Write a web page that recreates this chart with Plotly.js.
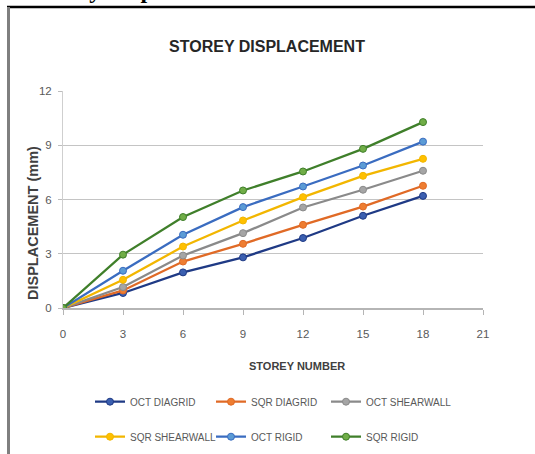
<!DOCTYPE html>
<html>
<head>
<meta charset="utf-8">
<script src="https://cdn.plot.ly/plotly-3.0.1.min.js"></script>
<style>
  html, body { margin: 0; padding: 0; background: #ffffff; }
  #chart { width: 535px; height: 454px; }
</style>
</head>
<body>
<div id="chart"></div>
<script>
// ---- data ----
var storeys = [0, 3, 6, 9, 12, 15, 18];
var seriesNames = ["OCT DIAGRID", "SQR DIAGRID", "OCT SHEARWALL", "SQR SHEARWALL", "OCT RIGID", "SQR RIGID"];
var octDiagrid   = [0, 0.83, 1.97, 2.80, 3.87, 5.10, 6.20];
var sqrDiagrid   = [0, 0.97, 2.57, 3.55, 4.60, 5.61, 6.76];
var octShearwall = [0, 1.16, 2.90, 4.14, 5.56, 6.54, 7.59];
var sqrShearwall = [0, 1.56, 3.40, 4.84, 6.13, 7.31, 8.25];
var octRigid     = [0, 2.06, 4.05, 5.58, 6.72, 7.88, 9.20];
var sqrRigid     = [0, 2.95, 5.03, 6.50, 7.55, 8.80, 10.28];
var xTicks = [0, 3, 6, 9, 12, 15, 18, 21];
var yTicks = [0, 3, 6, 9, 12];

// ---- styles ----
var lineColors   = ["#1f3a85", "#e06a26", "#8a8a8a", "#f2b600", "#3a6cc0", "#3f7f2a"];
var markerColors = ["#3b5fb0", "#ee7d31", "#a5a5a5", "#ffc000", "#5b9bd5", "#70ad47"];
var sans = "'Liberation Sans', Arial, sans-serif";

var W = 535, H = 454;
var M = {l: 63, r: 52, t: 91, b: 146};
var PW = W - M.l - M.r, PH = H - M.t - M.b;
function px2x(px) { return (px - M.l) / PW; }
function py2y(py) { return (H - M.b - py) / PH; }

// legend grid: 3 columns x 2 rows (pixel positions of each entry's box)
var legendColsPx = [90, 211, 326];
var legendRowsPx = [401.7, 436.7];

var values = [octDiagrid, sqrDiagrid, octShearwall, sqrShearwall, octRigid, sqrRigid];
var legendIds = values.map(function (v, i) { return i === 0 ? "legend" : "legend" + (i + 1); });

var traces = values.map(function (v, i) {
  return {
    type: "scatter",
    mode: "lines+markers",
    name: seriesNames[i],
    x: storeys,
    y: v,
    legend: legendIds[i],
    line: {color: lineColors[i], width: 2.3},
    marker: {symbol: "circle", size: 7, color: markerColors[i], line: {color: lineColors[i], width: 1}}
  };
});

var layout = {
  width: W, height: H, autosize: false,
  margin: {l: M.l, r: M.r, t: M.t, b: M.b, pad: 0},
  paper_bgcolor: "#ffffff",
  plot_bgcolor: "#ffffff",
  showlegend: true,
  title: {
    text: "STOREY DISPLACEMENT",
    font: {family: sans, size: 16, color: "#262626", weight: "bold"},
    xref: "container", yref: "container",
    x: 267 / W, xanchor: "center",
    y: 1 - 46 / H, yanchor: "middle"
  },
  xaxis: {
    range: [0, 21],
    tickvals: xTicks,
    ticktext: xTicks.map(String),
    showgrid: false,
    zeroline: false,
    showline: true, linecolor: "#b5b5b5", linewidth: 1.5,
    ticks: "outside", ticklen: 5, tickcolor: "#b5b5b5", tickwidth: 1,
    ticklabelstandoff: 10,
    tickfont: {family: sans, size: 11.5, color: "#595959"},
    fixedrange: true
  },
  yaxis: {
    range: [0, 12],
    tickvals: yTicks,
    ticktext: yTicks.map(String),
    showgrid: true, gridcolor: "#c4c4c4", gridwidth: 1.3,
    zeroline: false,
    showline: true, linecolor: "#cfcfcf", linewidth: 1,
    ticks: "outside", ticklen: 4, tickcolor: "#bdbdbd",
    ticklabelstandoff: 4,
    tickfont: {family: sans, size: 11.5, color: "#595959"},
    fixedrange: true
  },
  annotations: [
    {
      text: "STOREY NUMBER",
      xref: "paper", yref: "paper",
      x: px2x(297), y: py2y(366),
      xanchor: "center", yanchor: "middle",
      showarrow: false,
      font: {family: sans, size: 11, color: "#404040", weight: "bold"}
    },
    {
      text: "DISPLACEMENT (mm)",
      xref: "paper", yref: "paper",
      x: px2x(33), y: py2y(223),
      xanchor: "center", yanchor: "middle",
      textangle: -90,
      showarrow: false,
      font: {family: sans, size: 14.5, color: "#404040", weight: "bold"}
    },
    {
      text: "Storey Displacement",
      xref: "paper", yref: "paper",
      x: px2x(33), y: py2y(5),
      xanchor: "left", yanchor: "bottom",
      showarrow: false,
      font: {family: "'Liberation Serif', 'Times New Roman', serif", size: 24, color: "#000000", weight: "bold"}
    }
  ],
  shapes: [
    {type: "line", xref: "paper", yref: "paper", layer: "above",
     x0: px2x(7), x1: px2x(540), y0: py2y(7), y1: py2y(7),
     line: {color: "#000000", width: 2.5}},
    {type: "line", xref: "paper", yref: "paper", layer: "above",
     x0: px2x(8.5), x1: px2x(8.5), y0: py2y(7), y1: py2y(460),
     line: {color: "#7f7f7f", width: 3}}
  ]
};

legendIds.forEach(function (id, i) {
  layout[id] = {
    orientation: "h",
    xref: "container", yref: "container",
    x: legendColsPx[i % 3] / W, xanchor: "left",
    y: 1 - legendRowsPx[Math.floor(i / 3)] / H, yanchor: "middle",
    itemwidth: 30,
    font: {family: sans, size: 10, color: "#595959"},
    bgcolor: "rgba(0,0,0,0)"
  };
});

Plotly.newPlot("chart", traces, layout, {displayModeBar: false, staticPlot: true});
</script>
</body>
</html>
